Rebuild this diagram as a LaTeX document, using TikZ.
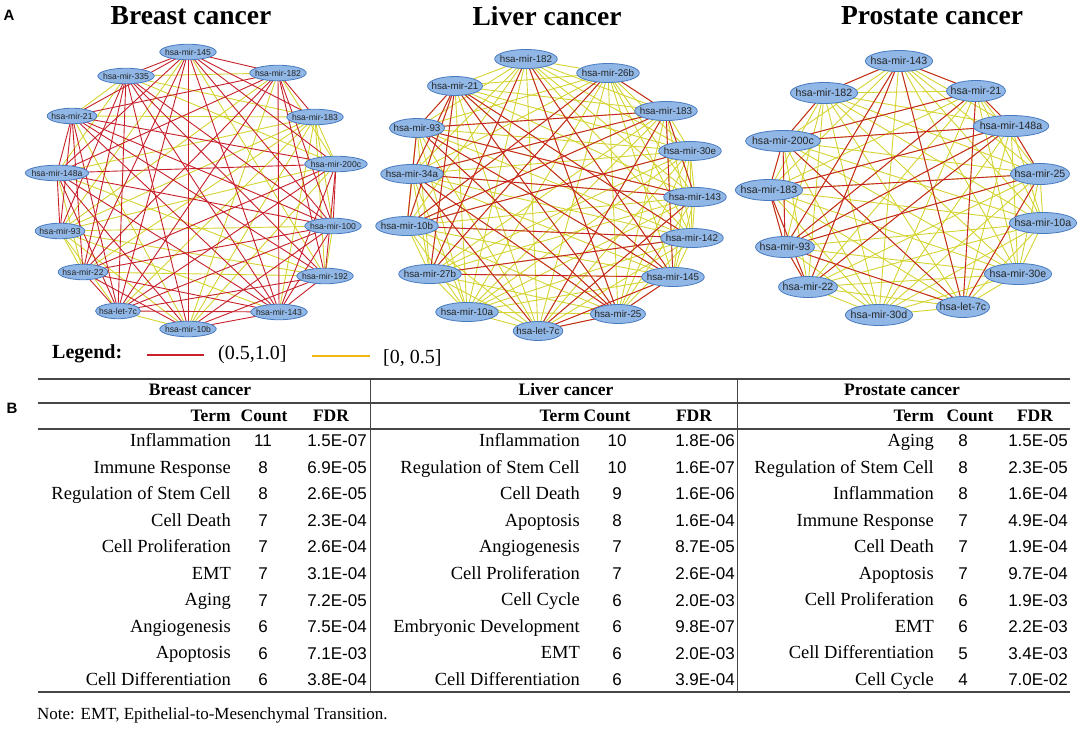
\documentclass[tikz,border=0pt]{standalone}
\usepackage{fontspec}
\setmainfont{Liberation Serif}
\setsansfont{Liberation Sans}
\usetikzlibrary{shapes.geometric}
\definecolor{nfill}{RGB}{144,183,230}
\definecolor{nborder}{RGB}{72,122,192}
\definecolor{redE}{RGB}{200,32,42}
\definecolor{yelE}{RGB}{212,212,50}
\definecolor{legY}{RGB}{240,182,20}
\definecolor{rule}{RGB}{70,70,70}
\pgfdeclarelayer{bg}
\pgfdeclarelayer{edges}
\pgfsetlayers{bg,edges,main}
\tikzset{
  mirnode/.style={ellipse, draw=nborder, fill=nfill, line width=0.8pt, inner ysep=0pt, text=black!85},
  mirB/.style={mirnode, font=\sffamily\fontsize{8.6}{8.6}\selectfont, inner xsep=-3pt, minimum height=15.5pt},
  mirL/.style={mirnode, font=\sffamily\fontsize{9.8}{9.8}\selectfont, inner xsep=-4pt, minimum height=19pt},
  mirP/.style={mirnode, font=\sffamily\fontsize{10.6}{10.6}\selectfont, inner xsep=-4.5pt, minimum height=21pt},
  redline/.style={draw=redE, line width=0.9pt},
  yelline/.style={draw=yelE, line width=0.9pt},
  title/.style={font=\bfseries\fontsize{27.5}{27.5}\selectfont, inner sep=0pt},
  panel/.style={font=\sffamily\bfseries\fontsize{15}{15}\selectfont, inner sep=0pt},
  legtext/.style={font=\fontsize{20}{20}\selectfont, inner sep=0pt, anchor=west},
  hdr/.style={font=\bfseries\fontsize{17.5}{17.5}\selectfont, inner sep=0pt, text height=12pt, text depth=3pt},
  termcell/.style={font=\fontsize{18.5}{18.5}\selectfont, inner sep=0pt, anchor=east, text height=13pt, text depth=4pt},
  numcell/.style={font=\sffamily\fontsize{17}{17}\selectfont, inner sep=0pt, text height=12.5pt, text depth=3pt},
  thickrule/.style={draw=rule, line width=2pt},
  thinrule/.style={draw=rule, line width=1.2pt},
  vrule/.style={draw=rule, line width=1pt},
}
\begin{document}
\begin{tikzpicture}[x=1pt,y=-1pt]
\begin{pgfonlayer}{bg}
\fill[white] (0,0) rectangle (1084,730);
\end{pgfonlayer}
\useasboundingbox (0,0) rectangle (1084,730);

% panel labels and titles
\node[panel] (lA) at (9,15) {A};
\node[panel] (lB) at (12,408) {B};
\node[title] (tB) at (191,16) {Breast cancer};
\node[title] (tL) at (547,16) {Liver cancer};
\node[title] (tP) at (932,16) {Prostate cancer};

% ---------------- Breast network ----------------
\node[mirB] (b1) at (188,52) {hsa-mir-145};
\node[mirB] (b2) at (278,73) {hsa-mir-182};
\node[mirB] (b3) at (315,117) {hsa-mir-183};
\node[mirB] (b4) at (336,164) {hsa-mir-200c};
\node[mirB] (b5) at (333,226) {hsa-mir-100};
\node[mirB] (b6) at (325,276) {hsa-mir-192};
\node[mirB] (b7) at (279,312) {hsa-mir-143};
\node[mirB] (b8) at (188,329) {hsa-mir-10b};
\node[mirB] (b9) at (118,311) {hsa-let-7c};
\node[mirB] (b10) at (83,272) {hsa-mir-22};
\node[mirB] (b11) at (60,231) {hsa-mir-93};
\node[mirB] (b12) at (57,173) {hsa-mir-148a};
\node[mirB] (b13) at (72,116) {hsa-mir-21};
\node[mirB] (b14) at (126,76) {hsa-mir-335};

\begin{pgfonlayer}{edges}
\foreach \i in {1,...,13}{
  \pgfmathtruncatemacro\s{\i+1}
  \foreach \j in {\s,...,14}{
    \pgfmathtruncatemacro\h{mod(\i*7+\j*11+\i*\j*3,10)}
    \ifnum\h<3 \draw[yelline] (b\i.center) -- (b\j.center); \fi
  }
}
\foreach \i in {1,...,13}{
  \pgfmathtruncatemacro\s{\i+1}
  \foreach \j in {\s,...,14}{
    \pgfmathtruncatemacro\h{mod(\i*7+\j*11+\i*\j*3,10)}
    \ifnum\h>2 \draw[redline] (b\i.center) -- (b\j.center); \fi
  }
}
\end{pgfonlayer}

% ---------------- Liver network ----------------
\node[mirL] (l1) at (526,59) {hsa-mir-182};
\node[mirL] (l2) at (608,73) {hsa-mir-26b};
\node[mirL] (l3) at (666,111) {hsa-mir-183};
\node[mirL] (l4) at (690,151) {hsa-mir-30e};
\node[mirL] (l5) at (695,197) {hsa-mir-143};
\node[mirL] (l6) at (692,238) {hsa-mir-142};
\node[mirL] (l7) at (673,277) {hsa-mir-145};
\node[mirL] (l8) at (618,314) {hsa-mir-25};
\node[mirL] (l9) at (538,331) {hsa-let-7c};
\node[mirL] (l10) at (467,312) {hsa-mir-10a};
\node[mirL] (l11) at (430,274) {hsa-mir-27b};
\node[mirL] (l12) at (407,226) {hsa-mir-10b};
\node[mirL] (l13) at (412,174) {hsa-mir-34a};
\node[mirL] (l14) at (417,128) {hsa-mir-93};
\node[mirL] (l15) at (455,86) {hsa-mir-21};

\begin{pgfonlayer}{edges}
\foreach \i in {1,...,14}{
  \pgfmathtruncatemacro\s{\i+1}
  \foreach \j in {\s,...,15}{
    \draw[yelline] (l\i.center) -- (l\j.center);
  }
}
\foreach \a/\b in {1/11,1/8,1/7,2/3,2/11,2/12,15/14,15/13,15/12,15/11,15/7,15/6,15/8,3/14,3/13,3/12,3/5,3/7,3/9,14/5,14/7,14/8,14/12,13/5,13/8,13/9,12/6,11/7,5/9,7/9,7/8,8/9,6/11,4/12}{
  \draw[redline] (l\a.center) -- (l\b.center);
}
\end{pgfonlayer}

% ---------------- Prostate network ----------------
\node[mirP] (p1) at (899,61) {hsa-mir-143};
\node[mirP] (p2) at (976,91) {hsa-mir-21};
\node[mirP] (p3) at (1011,126) {hsa-mir-148a};
\node[mirP] (p4) at (1040,174) {hsa-mir-25};
\node[mirP] (p5) at (1043,223) {hsa-mir-10a};
\node[mirP] (p6) at (1018,274) {hsa-mir-30e};
\node[mirP] (p7) at (963,307) {hsa-let-7c};
\node[mirP] (p8) at (879,315) {hsa-mir-30d};
\node[mirP] (p9) at (808,287) {hsa-mir-22};
\node[mirP] (p10) at (785,247) {hsa-mir-93};
\node[mirP] (p11) at (769,190) {hsa-mir-183};
\node[mirP] (p12) at (783,141) {hsa-mir-200c};
\node[mirP] (p13) at (824,93) {hsa-mir-182};

\begin{pgfonlayer}{edges}
\foreach \i in {1,...,12}{
  \pgfmathtruncatemacro\s{\i+1}
  \foreach \j in {\s,...,13}{
    \draw[yelline] (p\i.center) -- (p\j.center);
  }
}
\foreach \a/\b in {1/13,1/2,1/10,1/9,1/7,2/12,2/10,2/7,2/3,3/12,3/10,3/9,3/4,3/11,4/11,4/10,4/7,12/13,12/11,12/10,12/7,11/10,11/9,10/9,10/7}{
  \draw[redline] (p\a.center) -- (p\b.center);
}
\end{pgfonlayer}

% ---------------- Legend ----------------
\node[legtext, font=\bfseries\fontsize{20}{20}\selectfont] (leg) at (52,354) {Legend:};
\coordinate (r1) at (147,355);
\coordinate (r2) at (204,355);
\draw[draw=redE, line width=1.6pt] (r1) -- (r2);
\node[legtext] (legR) at (218,355) {(0.5,1.0]};
\coordinate (y1) at (312,356);
\coordinate (y2) at (370,356);
\draw[draw=legY, line width=1.6pt] (y1) -- (y2);
\node[legtext] (legY) at (383,358) {[0, 0.5]};

% ---------------- Table ----------------
\coordinate (tl) at (38,379);
\coordinate (tr) at (1070,379);
\coordinate (h1l) at (38,403);
\coordinate (h1r) at (1070,403);
\coordinate (h2l) at (38,429);
\coordinate (h2r) at (1070,429);
\coordinate (bl) at (38,692);
\coordinate (br) at (1070,692);
\coordinate (v1t) at (370,379);
\coordinate (v1b) at (370,692);
\coordinate (v2t) at (737,379);
\coordinate (v2b) at (737,692);
\draw[thickrule] (tl) -- (tr);
\draw[thinrule] (h1l) -- (h1r);
\draw[thinrule] (h2l) -- (h2r);
\draw[thickrule] (bl) -- (br);
\draw[vrule] (v1t) -- (v1b);
\draw[vrule] (v2t) -- (v2b);

\node[hdr] (hb) at (200,391) {Breast cancer};
\node[hdr] (hl) at (566,391) {Liver cancer};
\node[hdr] (hp) at (902,391) {Prostate cancer};

\node[hdr, anchor=east] (hbt) at (231,417) {Term};
\node[hdr] (hbc) at (264,417) {Count};
\node[hdr] (hbf) at (331,417) {FDR};
\node[hdr, anchor=east] (hlt) at (580,417) {Term};
\node[hdr] (hlc) at (607,417) {Count};
\node[hdr] (hlf) at (694,417) {FDR};
\node[hdr, anchor=east] (hpt) at (934,417) {Term};
\node[hdr] (hpc) at (970,417) {Count};
\node[hdr] (hpf) at (1035,417) {FDR};

\foreach \t/\c/\f [count=\k] in {Inflammation/11/1.5E-07, Immune Response/8/6.9E-05, Regulation of Stem Cell/8/2.6E-05, Cell Death/7/2.3E-04, Cell Proliferation/7/2.6E-04, EMT/7/3.1E-04, Aging/7/7.2E-05, Angiogenesis/6/7.5E-04, Apoptosis/6/7.1E-03, Cell Differentiation/6/3.8E-04}{
  \node[termcell] (bt\k) at (231,{442+(\k-1)*26.55}) {\t};
  \node[numcell] (bc\k) at (263,{442+(\k-1)*26.55}) {\c};
  \node[numcell, anchor=east] (bf\k) at (367,{442+(\k-1)*26.55}) {\f};
}
\foreach \t/\c/\f [count=\k] in {Inflammation/10/1.8E-06, Regulation of Stem Cell/10/1.6E-07, Cell Death/9/1.6E-06, Apoptosis/8/1.6E-04, Angiogenesis/7/8.7E-05, Cell Proliferation/7/2.6E-04, Cell Cycle/6/2.0E-03, Embryonic Development/6/9.8E-07, EMT/6/2.0E-03, Cell Differentiation/6/3.9E-04}{
  \node[termcell] (lt\k) at (580,{442+(\k-1)*26.55}) {\t};
  \node[numcell] (lc\k) at (617,{442+(\k-1)*26.55}) {\c};
  \node[numcell, anchor=east] (lf\k) at (735,{442+(\k-1)*26.55}) {\f};
}
\foreach \t/\c/\f [count=\k] in {Aging/8/1.5E-05, Regulation of Stem Cell/8/2.3E-05, Inflammation/8/1.6E-04, Immune Response/7/4.9E-04, Cell Death/7/1.9E-04, Apoptosis/7/9.7E-04, Cell Proliferation/6/1.9E-03, EMT/6/2.2E-03, Cell Differentiation/5/3.4E-03, Cell Cycle/4/7.0E-02}{
  \node[termcell] (pt\k) at (934,{442+(\k-1)*26.55}) {\t};
  \node[numcell] (pc\k) at (963,{442+(\k-1)*26.55}) {\c};
  \node[numcell, anchor=east] (pf\k) at (1068,{442+(\k-1)*26.55}) {\f};
}

\node[font=\fontsize{17}{17}\selectfont, inner sep=0pt, anchor=west] (note) at (37,715) {Note: EMT, Epithelial-to-Mesenchymal Transition.};
\end{tikzpicture}
\end{document}
